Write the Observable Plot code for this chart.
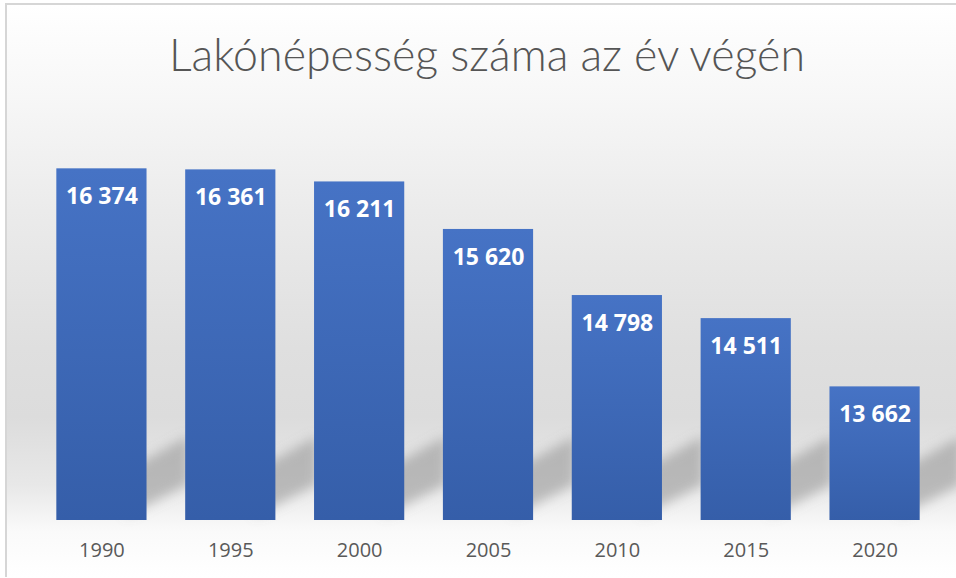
<!DOCTYPE html>
<html>
<head>
<meta charset="utf-8">
<script src="https://cdn.jsdelivr.net/npm/d3@7"></script>
<script src="https://cdn.jsdelivr.net/npm/@observablehq/plot@0.6"></script>
<style>
  html, body { margin: 0; padding: 0; background: #fff; }
  #wrap { position: relative; width: 956px; height: 578px; overflow: hidden; background: #fff; }
  #panel {
    position: absolute; left: 5px; top: 3px; width: 960px; height: 572px;
    border-left: 2px solid #d6d6d6; border-top: 2px solid #d6d6d6;
    background: linear-gradient(to bottom, #ffffff 0%, #f7f7f7 16%, #ebebeb 36%, #dfdfdf 60%, #dcdcdc 72%, #e8e8e8 84%, #fafafa 92%, #ffffff 100%);
  }
  #title { position: absolute; left: 0; top: 0; }
  #chart { position: absolute; left: 0; top: 0; }
</style>
</head>
<body>
<div id="wrap">
  <div id="panel"></div>
  <div id="chart"></div>
  <svg id="title" width="956" height="100">
    <text x="487" y="71" text-anchor="middle" fill="#555555"
      font-family="Lato, 'Open Sans', sans-serif" font-weight="300" font-size="46"
      textLength="636" lengthAdjust="spacingAndGlyphs">Lakónépesség száma az év végén</text>
  </svg>
</div>
<script>
const years = ["1990", "1995", "2000", "2005", "2010", "2015", "2020"];
const population = [16374, 16361, 16211, 15620, 14798, 14511, 13662];
const yDomain = [12000, 17000];

const data = years.map((year, i) => ({year, value: population[i]}));
const fmt = d3.formatLocale({thousands: " ", grouping: [3], decimal: ","}).format(",d");
const base = yDomain[0];

// shadow: replace each rect with a slanted blurred band derived from the bar's own geometry
function shadowRender(index, scales, values, dimensions, context, next) {
  const g = next(index, scales, values, dimensions, context);
  d3.select(g).selectAll("rect").each(function() {
    const r = d3.select(this);
    const x0 = +r.attr("x"), w = +r.attr("width");
    const yb = +r.attr("y") + +r.attr("height");
    const x1 = x0 + w;
    const pts = [[x1 - 20, yb - 50], [x1 + 42, yb - 84], [x1 + 42, yb - 36], [x1 - 20, yb - 4]];
    d3.select(this.parentNode).append("polygon")
      .attr("points", pts.map(p => p.join(",")).join(" "))
      .attr("fill", "#8a8a8a").attr("fill-opacity", 0.5)
      .attr("filter", "url(#shblur)");
    r.remove();
  });
  return g;
}

const plot = Plot.plot({
  width: 956,
  height: 578,
  marginTop: 118,
  marginBottom: 58,
  marginLeft: 37,
  marginRight: 17,
  style: {background: "transparent", overflow: "visible"},
  x: {type: "band", domain: years, paddingInner: 0.3, paddingOuter: 0.15, round: false, label: null},
  y: {domain: yDomain, axis: null},
  marks: [
    Plot.barY(data, {x: "year", y1: base, y2: "value", fill: "#888", render: shadowRender}),
    Plot.barY(data, {x: "year", y1: base, y2: "value", fill: "url(#bargrad)"}),
    Plot.text(data, {
      x: "year", y: "value", text: d => fmt(d.value), dy: 28,
      fill: "white", fontSize: 23, fontWeight: 700, fontFamily: "'Open Sans', sans-serif"
    }),
    Plot.axisX({
      tickSize: 0, tickPadding: 22, fontSize: 20, color: "#595959",
      fontFamily: "'Open Sans', sans-serif", label: null
    })
  ]
});

const svg = d3.select(plot);
const defs = svg.insert("defs", ":first-child");
const lg = defs.append("linearGradient").attr("id", "bargrad")
  .attr("x1", 0).attr("y1", 0).attr("x2", 0).attr("y2", 1);
lg.append("stop").attr("offset", "0%").attr("stop-color", "#4673c5");
lg.append("stop").attr("offset", "100%").attr("stop-color", "#355ea9");
const f = defs.append("filter").attr("id", "shblur")
  .attr("x", "-50%").attr("y", "-50%").attr("width", "200%").attr("height", "200%");
f.append("feGaussianBlur").attr("stdDeviation", 6);

document.getElementById("chart").appendChild(plot);
</script>
</body>
</html>
